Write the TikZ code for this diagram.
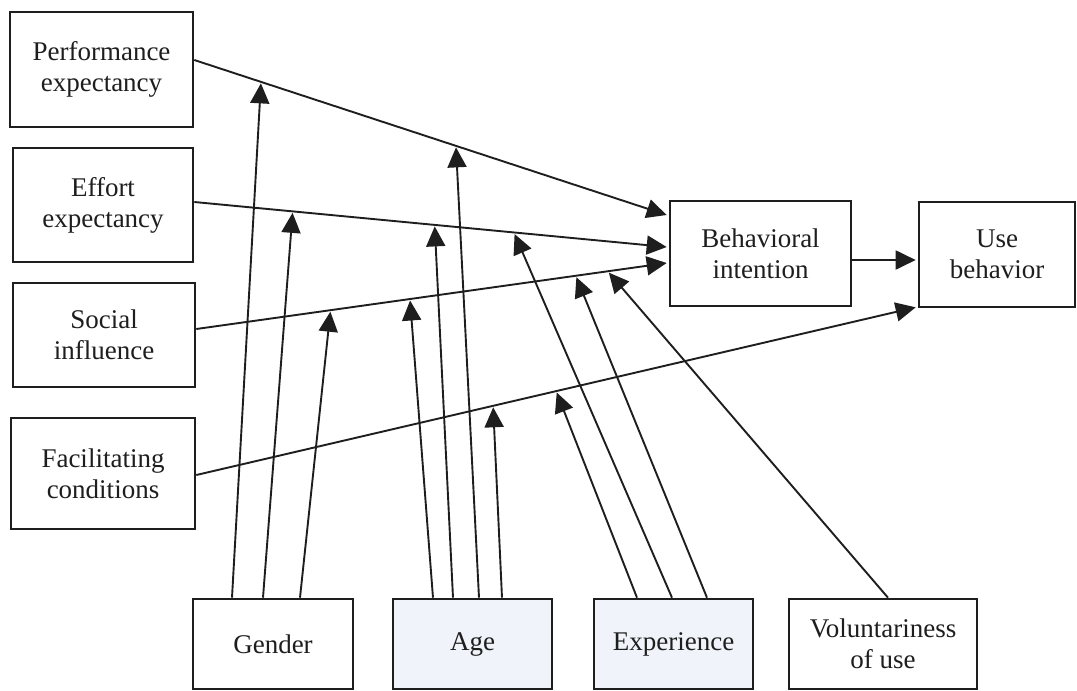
\documentclass[tikz,border=0pt]{standalone}
\usepackage{fontspec}
\setmainfont{Liberation Serif}
\usetikzlibrary{arrows.meta}
\definecolor{ink}{HTML}{1E1E1E}
\definecolor{tint}{HTML}{F0F3F9}
\begin{document}
\begin{tikzpicture}[x=1pt,y=-1pt,
  box/.style={draw=ink,line width=2.6pt,fill=white,align=center,inner sep=0pt,
    font=\fontsize{27}{31}\selectfont,text=ink},
  arr/.style={draw=ink,line width=1.9pt,-{Triangle[length=20pt,width=19pt]}}]
\useasboundingbox (0,0) rectangle (1077,691);

% constructs on the left
\node[box,minimum width=183pt,minimum height=115pt] (PE) at (101.5,69.5) {Performance\\expectancy};
\node[box,minimum width=180pt,minimum height=114pt] (EE) at (103,205) {Effort\\expectancy};
\node[box,minimum width=182pt,minimum height=104pt] (SI) at (104,335) {Social\\influence};
\node[box,minimum width=184pt,minimum height=111pt] (FC) at (103,473.5) {Facilitating\\conditions};

% outcomes
\node[box,minimum width=181pt,minimum height=105pt] (BI) at (760.5,253.5) {Behavioral\\intention};
\node[box,minimum width=156pt,minimum height=105pt] (UB) at (997,254.5) {Use\\behavior};

% moderators
\node[box,minimum width=160pt,minimum height=90pt] (GE) at (273,644) {Gender};
\node[box,fill=tint,minimum width=159pt,minimum height=90pt] (AG) at (472.5,644) {Age};
\node[box,fill=tint,minimum width=159pt,minimum height=90pt] (EX) at (673.5,644) {Experience};
\node[box,minimum width=188pt,minimum height=90pt] (VO) at (883,644) {Voluntariness\\of use};

% direct effects, with the points where moderators meet them
\draw[arr] ([yshift=9.5pt]PE.east) -- ([xshift=-2pt,yshift=38.5pt]BI.west)
  coordinate[pos=0.141] (pe1) coordinate[pos=0.554] (pe2);
\draw[arr] ([yshift=3pt]EE.east) -- ([xshift=-2pt,yshift=6.5pt]BI.west)
  coordinate[pos=0.208] (ee1) coordinate[pos=0.509] (ee2) coordinate[pos=0.678] (ee3);
\draw[arr] ([yshift=6pt]SI.east) -- ([xshift=-2pt,yshift=-9.5pt]BI.west)
  coordinate[pos=0.285] (si1) coordinate[pos=0.4545] (si2) coordinate[pos=0.808] (si3) coordinate[pos=0.877] (si4);
\draw[arr] ([yshift=-1.5pt]FC.east) -- ([xshift=-2pt,yshift=1pt]UB.south west)
  coordinate[pos=0.4127] (fc1) coordinate[pos=0.501] (fc2);
\draw[arr] ([yshift=-6.5pt]BI.east) -- ([xshift=-2pt,yshift=-5.5pt]UB.west);

% gender
\draw[arr] ([xshift=-41pt]GE.north) -- ([yshift=-1.5pt]pe1);
\draw[arr] ([xshift=-10pt]GE.north) -- ([yshift=-1.5pt]ee1);
\draw[arr] ([xshift=27pt]GE.north) -- ([yshift=-1.5pt]si1);
% age
\draw[arr] ([xshift=-39.5pt]AG.north) -- ([yshift=-1.5pt]si2);
\draw[arr] ([xshift=-19.5pt]AG.north) -- ([yshift=-1.5pt]ee2);
\draw[arr] ([xshift=6.5pt]AG.north) -- ([yshift=-1.5pt]pe2);
\draw[arr] ([xshift=29.5pt]AG.north) -- ([yshift=-1.5pt]fc1);
% experience
\draw[arr] ([xshift=-36.5pt]EX.north) -- ([yshift=-1.5pt]fc2);
\draw[arr] ([xshift=-1.5pt]EX.north) -- ([yshift=-1.5pt]ee3);
\draw[arr] ([xshift=33.5pt]EX.north) -- ([yshift=-1.5pt]si3);
% voluntariness of use
\draw[arr] ([xshift=5pt]VO.north) -- ([yshift=-1.5pt]si4);
\end{tikzpicture}
\end{document}
